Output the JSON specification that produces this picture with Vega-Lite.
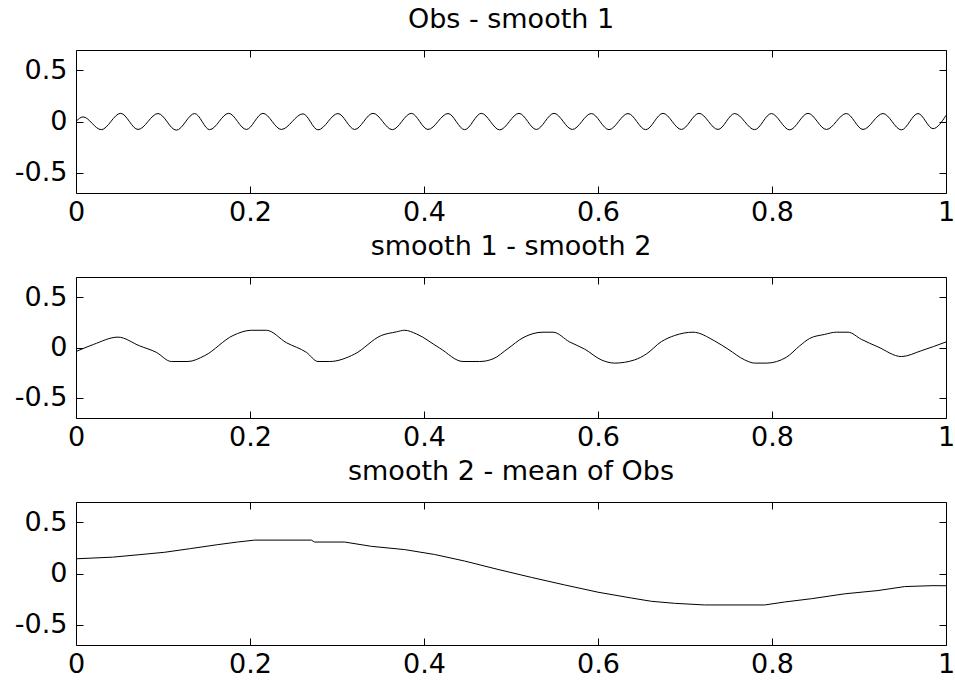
{
  "$schema": "https://vega.github.io/schema/vega-lite/v6.json",
  "background": "white",
  "padding": {"left": 13, "top": 5, "right": 0, "bottom": 2},
  "bounds": "flush",
  "spacing": 84,
  "config": {
    "view": {"stroke": "black", "strokeWidth": 1},
    "axis": {"grid": false, "domain": false, "tickColor": "black", "tickSize": -7, "labelFont": "DejaVu Sans", "labelFontSize": 27, "labelColor": "black", "labelFlush": false, "labelOverlap": false},
    "axisX": {"labelPadding": 13},
    "axisY": {"labelPadding": 16},
    "title": {"font": "DejaVu Sans", "fontSize": 27, "fontWeight": "normal", "color": "black", "offset": 16}
  },
  "datasets": {
    "p1": [
      {"x": 0, "y": 0.0}, {"x": 0.008, "y": 0.045}, {"x": 0.029, "y": -0.08}, {"x": 0.0513, "y": 0.08}, {"x": 0.0713, "y": -0.078},
      {"x": 0.0943, "y": 0.078}, {"x": 0.1153, "y": -0.085}, {"x": 0.1364, "y": 0.078}, {"x": 0.1536, "y": -0.08}, {"x": 0.1755, "y": 0.08},
      {"x": 0.1958, "y": -0.078}, {"x": 0.2149, "y": 0.08}, {"x": 0.236, "y": -0.078}, {"x": 0.2609, "y": 0.075}, {"x": 0.2782, "y": -0.082},
      {"x": 0.3011, "y": 0.078}, {"x": 0.3203, "y": -0.078}, {"x": 0.3414, "y": 0.08}, {"x": 0.3636, "y": -0.08}, {"x": 0.3854, "y": 0.08},
      {"x": 0.4046, "y": -0.078}, {"x": 0.4276, "y": 0.078}, {"x": 0.4467, "y": -0.08}, {"x": 0.4659, "y": 0.08}, {"x": 0.487, "y": -0.082},
      {"x": 0.5092, "y": 0.08}, {"x": 0.5291, "y": -0.078}, {"x": 0.5494, "y": 0.08}, {"x": 0.5705, "y": -0.078}, {"x": 0.5923, "y": 0.078},
      {"x": 0.6126, "y": -0.08}, {"x": 0.6345, "y": 0.078}, {"x": 0.6548, "y": -0.08}, {"x": 0.6747, "y": 0.08}, {"x": 0.6958, "y": -0.078},
      {"x": 0.7161, "y": 0.08}, {"x": 0.7379, "y": -0.078}, {"x": 0.7571, "y": 0.078}, {"x": 0.7801, "y": -0.08}, {"x": 0.7992, "y": 0.078},
      {"x": 0.8203, "y": -0.082}, {"x": 0.8414, "y": 0.08}, {"x": 0.8625, "y": -0.078}, {"x": 0.8854, "y": 0.078}, {"x": 0.9046, "y": -0.078},
      {"x": 0.9276, "y": 0.078}, {"x": 0.9487, "y": -0.082}, {"x": 0.9678, "y": 0.078}, {"x": 0.9851, "y": -0.07}, {"x": 1.0, "y": 0.06}
    ],
    "p2": [
      {"x": 0, "y": -0.04}, {"x": 0.02, "y": 0.03}, {"x": 0.0483, "y": 0.103}, {"x": 0.0732, "y": 0.016}, {"x": 0.0923, "y": -0.048},
      {"x": 0.1096, "y": -0.139}, {"x": 0.1287, "y": -0.139}, {"x": 0.1479, "y": -0.081}, {"x": 0.1805, "y": 0.119}, {"x": 0.2015, "y": 0.171},
      {"x": 0.2188, "y": 0.171}, {"x": 0.2418, "y": 0.048}, {"x": 0.2648, "y": -0.048}, {"x": 0.2782, "y": -0.139}, {"x": 0.2916, "y": -0.139},
      {"x": 0.3203, "y": -0.065}, {"x": 0.3509, "y": 0.119}, {"x": 0.3682, "y": 0.155}, {"x": 0.3778, "y": 0.171}, {"x": 0.3912, "y": 0.135},
      {"x": 0.418, "y": -0.006}, {"x": 0.4448, "y": -0.139}, {"x": 0.464, "y": -0.139}, {"x": 0.4793, "y": -0.113}, {"x": 0.4966, "y": -0.01},
      {"x": 0.5138, "y": 0.097}, {"x": 0.5368, "y": 0.152}, {"x": 0.5483, "y": 0.152}, {"x": 0.5674, "y": 0.055}, {"x": 0.5847, "y": -0.016},
      {"x": 0.6038, "y": -0.123}, {"x": 0.6191, "y": -0.155}, {"x": 0.6421, "y": -0.123}, {"x": 0.6555, "y": -0.065}, {"x": 0.6728, "y": 0.058},
      {"x": 0.6881, "y": 0.119}, {"x": 0.7092, "y": 0.152}, {"x": 0.7341, "y": 0.065}, {"x": 0.7494, "y": -0.016}, {"x": 0.7686, "y": -0.123},
      {"x": 0.7801, "y": -0.155}, {"x": 0.7935, "y": -0.155}, {"x": 0.8165, "y": -0.097}, {"x": 0.8318, "y": 0.016}, {"x": 0.8433, "y": 0.09},
      {"x": 0.8605, "y": 0.13}, {"x": 0.8740, "y": 0.152}, {"x": 0.8874, "y": 0.152}, {"x": 0.9027, "y": 0.081}, {"x": 0.9218, "y": 0.006},
      {"x": 0.9487, "y": -0.09}, {"x": 0.9716, "y": -0.032}, {"x": 1.0, "y": 0.055}
    ],
    "p3": [
      {"x": 0, "y": 0.144}, {"x": 0.042, "y": 0.16}, {"x": 0.0713, "y": 0.183}, {"x": 0.102, "y": 0.208}, {"x": 0.1318, "y": 0.244},
      {"x": 0.1625, "y": 0.282}, {"x": 0.1855, "y": 0.308}, {"x": 0.2054, "y": 0.327}, {"x": 0.2705, "y": 0.327}, {"x": 0.2743, "y": 0.308},
      {"x": 0.3088, "y": 0.308}, {"x": 0.3395, "y": 0.266}, {"x": 0.3778, "y": 0.234}, {"x": 0.4123, "y": 0.186}, {"x": 0.4467, "y": 0.122},
      {"x": 0.485, "y": 0.04}, {"x": 0.5234, "y": -0.038}, {"x": 0.5617, "y": -0.112}, {"x": 0.6, "y": -0.183}, {"x": 0.6383, "y": -0.24},
      {"x": 0.6613, "y": -0.272}, {"x": 0.6881, "y": -0.292}, {"x": 0.7226, "y": -0.308}, {"x": 0.7916, "y": -0.308}, {"x": 0.8146, "y": -0.279},
      {"x": 0.8452, "y": -0.247}, {"x": 0.8835, "y": -0.199}, {"x": 0.9218, "y": -0.167}, {"x": 0.9525, "y": -0.128}, {"x": 0.9851, "y": -0.119},
      {"x": 1.0, "y": -0.12}
    ]
  },
  "vconcat": [
    {
      "width": 870, "height": 143,
      "title": {"text": "Obs - smooth 1"},
      "data": {"name": "p1"},
      "layer": [
        {"mark": {"type": "line", "color": "black", "strokeWidth": 1, "interpolate": "monotone"},
         "encoding": {
           "x": {"field": "x", "type": "quantitative", "title": null, "scale": {"domain": [0, 1], "nice": false}, "axis": {"orient": "bottom", "values": [0, 0.2, 0.4, 0.6, 0.8, 1], "labelExpr": "format(datum.value, '.1~f')"}},
           "y": {"field": "y", "type": "quantitative", "title": null, "scale": {"domain": [-0.7, 0.7], "nice": false}, "axis": {"orient": "left", "values": [-0.5, 0, 0.5], "labelExpr": "datum.value < 0 ? '-' + format(-datum.value, '.1~f') : format(datum.value, '.1~f')"}}
         }},
        {"mark": {"type": "line", "strokeOpacity": 0},
         "encoding": {
           "x": {"field": "x", "type": "quantitative", "title": null, "axis": {"orient": "top", "values": [0, 0.2, 0.4, 0.6, 0.8, 1], "labels": false}},
           "y": {"field": "y", "type": "quantitative", "title": null, "axis": {"orient": "right", "values": [-0.5, 0, 0.5], "labels": false}}
         }}
      ],
      "resolve": {"axis": {"x": "independent", "y": "independent"}}
    },
    {
      "width": 870, "height": 141,
      "title": {"text": "smooth 1 - smooth 2"},
      "data": {"name": "p2"},
      "layer": [
        {"mark": {"type": "line", "color": "black", "strokeWidth": 1, "interpolate": "monotone"},
         "encoding": {
           "x": {"field": "x", "type": "quantitative", "title": null, "scale": {"domain": [0, 1], "nice": false}, "axis": {"orient": "bottom", "values": [0, 0.2, 0.4, 0.6, 0.8, 1], "labelExpr": "format(datum.value, '.1~f')"}},
           "y": {"field": "y", "type": "quantitative", "title": null, "scale": {"domain": [-0.7, 0.7], "nice": false}, "axis": {"orient": "left", "values": [-0.5, 0, 0.5], "labelExpr": "datum.value < 0 ? '-' + format(-datum.value, '.1~f') : format(datum.value, '.1~f')"}}
         }},
        {"mark": {"type": "line", "strokeOpacity": 0},
         "encoding": {
           "x": {"field": "x", "type": "quantitative", "title": null, "axis": {"orient": "top", "values": [0, 0.2, 0.4, 0.6, 0.8, 1], "labels": false}},
           "y": {"field": "y", "type": "quantitative", "title": null, "axis": {"orient": "right", "values": [-0.5, 0, 0.5], "labels": false}}
         }}
      ],
      "resolve": {"axis": {"x": "independent", "y": "independent"}}
    },
    {
      "width": 870, "height": 143,
      "title": {"text": "smooth 2 - mean of Obs"},
      "data": {"name": "p3"},
      "layer": [
        {"mark": {"type": "line", "color": "black", "strokeWidth": 1},
         "encoding": {
           "x": {"field": "x", "type": "quantitative", "title": null, "scale": {"domain": [0, 1], "nice": false}, "axis": {"orient": "bottom", "values": [0, 0.2, 0.4, 0.6, 0.8, 1], "labelExpr": "format(datum.value, '.1~f')"}},
           "y": {"field": "y", "type": "quantitative", "title": null, "scale": {"domain": [-0.7, 0.7], "nice": false}, "axis": {"orient": "left", "values": [-0.5, 0, 0.5], "labelExpr": "datum.value < 0 ? '-' + format(-datum.value, '.1~f') : format(datum.value, '.1~f')"}}
         }},
        {"mark": {"type": "line", "strokeOpacity": 0},
         "encoding": {
           "x": {"field": "x", "type": "quantitative", "title": null, "axis": {"orient": "top", "values": [0, 0.2, 0.4, 0.6, 0.8, 1], "labels": false}},
           "y": {"field": "y", "type": "quantitative", "title": null, "axis": {"orient": "right", "values": [-0.5, 0, 0.5], "labels": false}}
         }}
      ],
      "resolve": {"axis": {"x": "independent", "y": "independent"}}
    }
  ]
}
